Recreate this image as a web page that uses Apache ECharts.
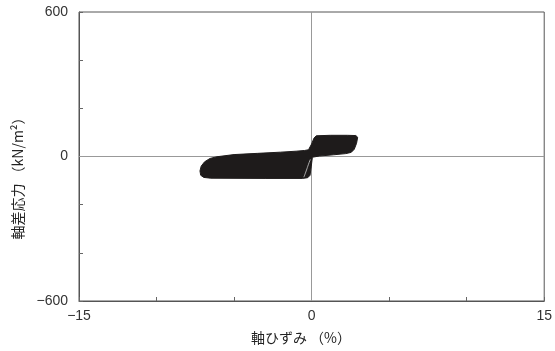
<!DOCTYPE html>
<html>
<head>
<meta charset="utf-8">
<script src="https://cdn.jsdelivr.net/npm/echarts@6/dist/echarts.min.js"></script>
<style>html,body{margin:0;padding:0;background:#fff}#c{width:555px;height:351px}</style>
</head>
<body>
<div id="c"></div>
<script>
// Outline of the dense hysteresis loops (strain %, deviator stress kN/m2)
const loopStrain = [-6.1, -5.0, -3.5, -2.0, -1.0, -0.45, -0.2, 0.0, 0.15, 0.3, 1.2, 2.3, 2.85, 2.97, 2.9, 2.75, 2.55, 2.2, 1.4, 0.5, 0.05, -0.02, -0.1, -0.25, -0.6, -3.0, -6.5, -6.95, -7.15, -7.2, -7.12, -6.9, -6.55];
const loopStress = [-1, 8, 13, 18, 22, 25, 28, 52, 76, 86, 88, 88, 87, 80, 55, 30, 17, 12, 7, 2, -3, -40, -78, -88, -91, -91, -90, -87, -78, -60, -40, -22, -8];
// thin gaps between individual loops near zero strain
const gapStrain = [-0.5, -0.35, -0.2, -0.08];
const gapStress = [-86, -60, -32, -12];
const xTickLabels = [-15, 0, 15];
const yTickLabels = [-600, 0, 600];

const fmt = v => (v < 0 ? '\u2212' + Math.abs(v) : String(v));
const chart = echarts.init(document.getElementById('c'), null, {renderer: 'canvas'});
const txt = {color: '#333', fontFamily: 'Liberation Sans, Arial, sans-serif', fontSize: 14};
chart.setOption({
  animation: false,
  grid: {left: 79, right: 7, top: 12, bottom: 50, show: true, borderColor: '#555', borderWidth: 1},
  xAxis: {
    type: 'value', min: -15, max: 15, interval: 5,
    axisLine: {onZero: false, lineStyle: {color: '#555'}},
    axisTick: {inside: true, length: 4, lineStyle: {color: '#666'}},
    splitLine: {show: false},
    axisLabel: Object.assign({margin: 8, formatter: v => xTickLabels.includes(v) ? fmt(v) : ''}, txt)
  },
  yAxis: {
    type: 'value', min: -600, max: 600, interval: 200,
    axisLine: {onZero: false, lineStyle: {color: '#555'}},
    axisTick: {inside: true, length: 4, lineStyle: {color: '#666'}},
    splitLine: {show: false},
    axisLabel: Object.assign({margin: 11, formatter: v => yTickLabels.includes(v) ? fmt(v) : ''}, txt)
  },
  graphic: [
    {type: 'text', x: 301, y: 338, style: {text: '軸ひずみ （%）', fill: '#222', font: '14px "Noto Sans CJK JP"', align: 'center', verticalAlign: 'middle'}},
    {type: 'text', x: 18, y: 175, rotation: Math.PI / 2, style: {text: '軸差応力 （kN/m²）', fill: '#222', font: '14px "Noto Sans CJK JP"', align: 'center', verticalAlign: 'middle'}}
  ],
  series: [
    {
      type: 'line', data: [], silent: true,
      markLine: {
        symbol: 'none', silent: true, label: {show: false},
        lineStyle: {color: '#999', width: 1, type: 'solid'},
        data: [{xAxis: 0}, {yAxis: 0}]
      }
    },
    {
      type: 'custom', silent: true, z: 5,
      data: loopStrain.map((x, i) => [x, loopStress[i]]),
      renderItem: function (params, api) {
        if (params.dataIndex !== 0) return null;
        const pts = loopStrain.map((x, i) => api.coord([x, loopStress[i]]));
        return {type: 'polygon', shape: {points: pts}, style: {fill: '#1e1b1b', stroke: '#1e1b1b', lineWidth: 1}};
      }
    },
    {
      type: 'line', z: 6, silent: true, symbol: 'none', smooth: true,
      data: gapStrain.map((x, i) => [x, gapStress[i]]),
      lineStyle: {color: '#cfcfcf', width: 0.8}
    }
  ]
});
</script>
</body>
</html>
